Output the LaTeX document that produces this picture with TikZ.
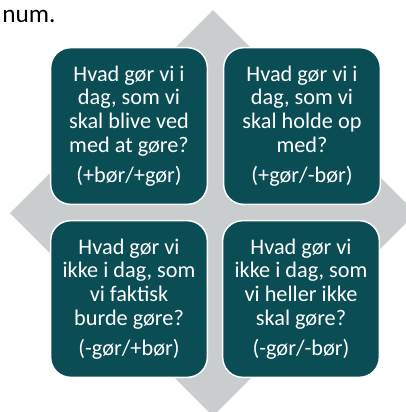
\documentclass[tikz,border=0pt]{standalone}
\usepackage{fontspec}
\setmainfont{Carlito}
\definecolor{boxteal}{HTML}{0B4D55}
\definecolor{rudegray}{HTML}{C9CDCD}
\tikzset{
  felt/.style={rectangle, rounded corners=15pt, fill=boxteal, draw=white,
    line width=1.1pt, minimum width=117.5pt, minimum height=117.5pt,
    text=white, align=center, font=\fontsize{16.7}{17.7}\selectfont},
}
\begin{document}
\begin{tikzpicture}[x=0.75pt,y=-0.75pt]
      \useasboundingbox (0,0) rectangle (406,412);
      % rude bag ved felterne
      \fill[rudegray] (213,10) -- (416,213) -- (213,416) -- (10,213) -- cycle;
      \node[anchor=base west, font=\fontsize{19}{21}\selectfont, inner sep=0pt]
        (num) at (2,22) {num.};
      \draw
        (129,126) node[felt] (bg){Hvad gør vi i\\dag, som vi\\skal blive ved\\med at gøre?\\[5pt](+bør/+gør)}
        (302,126) node[felt] (hg){Hvad gør vi i\\dag, som vi\\skal holde op\\med?\\[5pt](+gør/-bør)}
        (129,299) node[felt] (ib){Hvad gør vi\\ikke i dag, som\\vi faktisk\\burde gøre?\\[5pt](-gør/+bør)}
        (301,299) node[felt] (ig){Hvad gør vi\\ikke i dag, som\\vi heller ikke\\skal gøre?\\[5pt](-gør/-bør)};
    \end{tikzpicture}
\end{document}
